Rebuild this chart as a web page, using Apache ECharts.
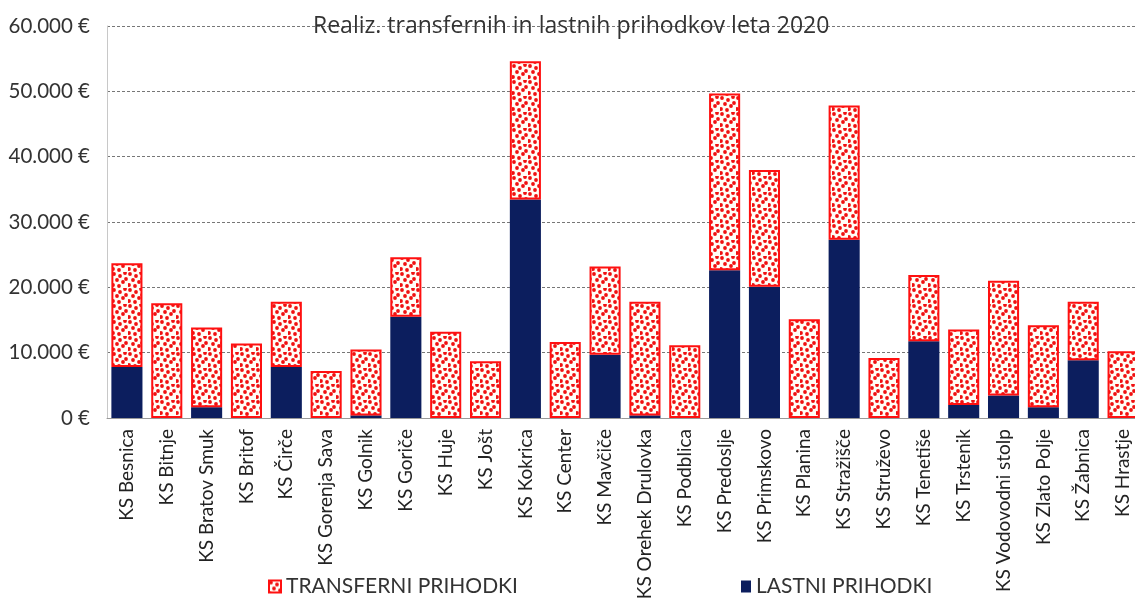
<!DOCTYPE html>
<html>
<head>
<meta charset="utf-8">
<script src="https://cdn.jsdelivr.net/npm/echarts@6/dist/echarts.min.js"></script>
<style>
  html, body { margin: 0; padding: 0; background: #fff; }
  #chart { width: 1135px; height: 606px; }
</style>
</head>
<body>
<div id="chart"></div>
<script>
// krajevne skupnosti
var categories = ["KS Besnica", "KS Bitnje", "KS Bratov Smuk", "KS Britof", "KS Čirče", "KS Gorenja Sava",
  "KS Golnik", "KS Goriče", "KS Huje", "KS Jošt", "KS Kokrica", "KS Center", "KS Mavčiče",
  "KS Orehek Drulovka", "KS Podblica", "KS Predoslje", "KS Primskovo", "KS Planina", "KS Stražišče",
  "KS Struževo", "KS Tenetiše", "KS Trstenik", "KS Vodovodni stolp", "KS Zlato Polje", "KS Žabnica", "KS Hrastje"];

// lastni prihodki (spodnji del stolpca)
var lastni = [7800, 0, 1650, 0, 7800, 0, 400, 15500, 0, 0, 33450, 0, 9700,
  400, 0, 22600, 20100, 0, 27300, 0, 11750, 2000, 3450, 1650, 8850, 0];

// transferni prihodki (zgornji del)
var transferni = [15900, 17550, 12200, 11400, 10000, 7200, 10100, 9100, 13200, 8700, 21150, 11650, 13500,
  17400, 11150, 27050, 17850, 15100, 20550, 9200, 10150, 11550, 17550, 12550, 8950, 10200];

var yTicks = [0, 10000, 20000, 30000, 40000, 50000, 60000];

var FONT = "Lato";

function dotPattern() {
  var c = document.createElement("canvas");
  c.width = 16;
  c.height = 16;
  var ctx = c.getContext("2d");
  ctx.fillStyle = "#fffdf6";
  ctx.fillRect(0, 0, 16, 16);
  ctx.fillStyle = "#f01010";
  var dots = [[2, 2], [8, 4], [13, 1], [5, 8], [11, 10], [1, 13], [7, 14], [14, 7]];
  dots.forEach(function (d) {
    ctx.beginPath();
    ctx.arc(d[0], d[1], 1.9, 0, Math.PI * 2);
    ctx.fill();
  });
  return c;
}

var chart = echarts.init(document.getElementById("chart"));

chart.setOption({
  animation: false,
  title: {
    text: "Realiz. transfernih in lastnih prihodkov leta 2020",
    left: 308,
    top: 10,
    textStyle: { fontFamily: "Open Sans", fontSize: 23, fontWeight: "normal", color: "#333" }
  },
  legend: [
    {
      data: ["TRANSFERNI PRIHODKI"],
      left: 263,
      top: 571,
      icon: "rect",
      itemWidth: 12,
      itemHeight: 12,
      textStyle: { fontFamily: FONT, fontSize: 21, color: "#333" }
    },
    {
      data: ["LASTNI PRIHODKI"],
      left: 736,
      top: 571,
      icon: "rect",
      itemWidth: 10,
      itemHeight: 12,
      textStyle: { fontFamily: FONT, fontSize: 21, color: "#333" }
    }
  ],
  grid: {
    left: 107,
    right: -8,
    top: 26,
    bottom: 188,
    containLabel: false,
    outerBoundsMode: "none"
  },
  xAxis: {
    type: "category",
    data: categories,
    axisTick: { show: false },
    axisLine: { lineStyle: { color: "#999" } },
    axisLabel: {
      interval: 0,
      rotate: 90,
      margin: 11,
      fontFamily: FONT,
      fontSize: 19,
      color: "#222"
    }
  },
  yAxis: {
    type: "value",
    min: yTicks[0],
    max: yTicks[yTicks.length - 1],
    interval: 10000,
    axisLine: { show: true, lineStyle: { color: "#c8c8c8" } },
    axisTick: { show: false },
    splitLine: { lineStyle: { color: "#777", type: [3, 2], width: 1 } },
    axisLabel: {
      margin: 17,
      fontFamily: FONT,
      fontSize: 20.5,
      color: "#333",
      formatter: function (v) {
        return v === 0 ? "0 €" : (v / 1000) + ".000 €";
      }
    }
  },
  series: [
    {
      name: "LASTNI PRIHODKI",
      type: "bar",
      stack: "skupaj",
      barWidth: "78%",
      data: lastni,
      itemStyle: { color: "#0c1e5e" }
    },
    {
      name: "TRANSFERNI PRIHODKI",
      type: "bar",
      stack: "skupaj",
      barWidth: "78%",
      data: transferni,
      itemStyle: {
        color: { image: dotPattern(), repeat: "repeat" },
        borderColor: "#ff1010",
        borderWidth: 2
      }
    }
  ]
});
</script>
</body>
</html>
